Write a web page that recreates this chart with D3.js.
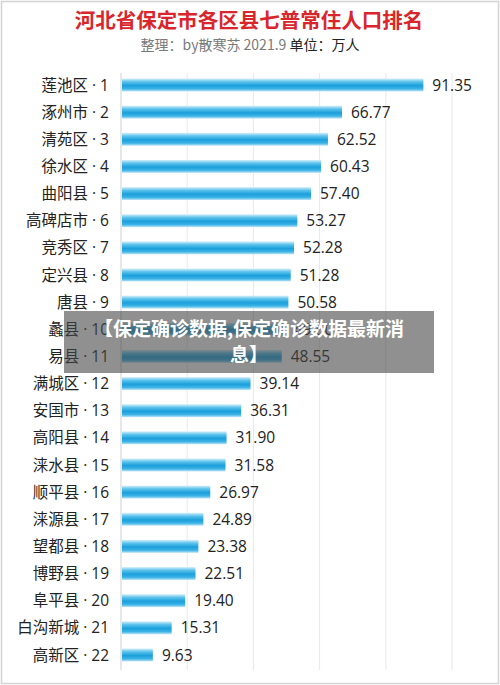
<!DOCTYPE html>
<html><head><meta charset="utf-8">
<script src="https://cdn.jsdelivr.net/npm/d3@7"></script>
<style>html,body{margin:0;padding:0;background:#fff;}svg{display:block;}</style>
</head><body>
<script>
const districts = ["莲池区","涿州市","清苑区","徐水区","曲阳县","高碑店市","竞秀区","定兴县","唐县","蠡县","易县","满城区","安国市","高阳县","涞水县","顺平县","涞源县","望都县","博野县","阜平县","白沟新城","高新区"];
const population = [91.35,66.77,62.52,60.43,57.40,53.27,52.28,51.28,50.58,49.50,48.55,39.14,36.31,31.90,31.58,26.97,24.89,23.38,22.51,19.40,15.31,9.63];
const xTicks = [0,20,40,60,80,100];
const titleText = "河北省保定市各区县七普常住人口排名";
const subtitleGray = "整理：by散寒苏 2021.9";
const subtitleDark = "单位：万人";
const overlayLines = ["【保定确诊数据,保定确诊数据最新消","息】"];

const W = 500, H = 685;
const font = "'Noto Sans CJK SC','Noto Sans',sans-serif";
const latinFont = "'Open Sans','Noto Sans CJK SC',sans-serif";
const svg = d3.select("body").append("svg").attr("width", W).attr("height", H);

const defs = svg.append("defs");
const g1 = defs.append("linearGradient").attr("id","barGrad").attr("x1",0).attr("y1",0).attr("x2",0).attr("y2",1);
[[0,"#d8f0fb"],[0.25,"#5cc3ec"],[0.55,"#1b9fdb"],[0.8,"#3cb3e6"],[1,"#bfe5f6"]].forEach(([o,c])=>g1.append("stop").attr("offset",o).attr("stop-color",c));

svg.append("rect").attr("x",1.5).attr("y",1.5).attr("width",W-3).attr("height",H-3)
  .attr("fill","#fff").attr("stroke","#d4d4d4").attr("stroke-width",1.5);

const rows = districts.map((d,i)=>({name:d, rank:i+1, value:population[i]}));

const x = d3.scaleLinear().domain([0,100]).range([121,452]);
const y = d3.scaleBand().domain(districts).range([71.4,668.5]).paddingInner(0.56).paddingOuter(0.28);

// gridlines
svg.append("g").selectAll("line").data(xTicks.slice(1)).join("line")
  .attr("x1",d=>x(d)).attr("x2",d=>x(d)).attr("y1",73).attr("y2",670)
  .attr("stroke","#e8e8e8").attr("stroke-width",1);
svg.append("line").attr("x1",x(0)).attr("x2",x(0)).attr("y1",73).attr("y2",670)
  .attr("stroke","#cfcfcf").attr("stroke-width",1);

// bars
svg.append("g").selectAll("rect").data(rows).join("rect")
  .attr("x",x(0)+1).attr("y",d=>y(d.name)-0.5)
  .attr("width",d=>x(d.value)-x(0)-1).attr("height",y.bandwidth()+1)
  .attr("fill","url(#barGrad)");

// category labels
svg.append("g").selectAll("text").data(rows).join("text")
  .attr("x",109).attr("y",d=>y(d.name)+y.bandwidth()/2).attr("dy","0.36em")
  .attr("text-anchor","end").attr("font-family",latinFont).attr("font-size",15.5).attr("fill","#222")
  .text(d=>d.name+" · "+d.rank);

// value labels
svg.append("g").selectAll("text").data(rows).join("text")
  .attr("x",d=>x(d.value)+9).attr("y",d=>y(d.name)+y.bandwidth()/2).attr("dy","0.36em")
  .attr("font-family",latinFont).attr("font-size",15.5).attr("fill","#222")
  .text(d=>d.value.toFixed(2));

// title
svg.append("text").attr("x",249).attr("y",28).attr("text-anchor","middle")
  .attr("font-family",font).attr("font-size",20.5).attr("font-weight","bold").attr("fill","#d9262c")
  .text(titleText);
const sub = svg.append("text").attr("x",250).attr("y",50).attr("text-anchor","middle")
  .attr("font-family",font).attr("font-size",14);
sub.append("tspan").attr("fill","#7a7a7a").text(subtitleGray+" ");
sub.append("tspan").attr("fill","#222").text(subtitleDark);

// overlay
svg.append("rect").attr("x",64).attr("y",311).attr("width",370).attr("height",62)
  .attr("fill","rgba(70,70,70,0.6)");
svg.append("g").selectAll("text").data(overlayLines).join("text")
  .attr("x",249).attr("y",(d,i)=>336+i*26).attr("text-anchor","middle")
  .attr("font-family",font).attr("font-size",19).attr("font-weight","bold").attr("fill","#fff")
  .text(d=>d);
</script>
</body></html>
